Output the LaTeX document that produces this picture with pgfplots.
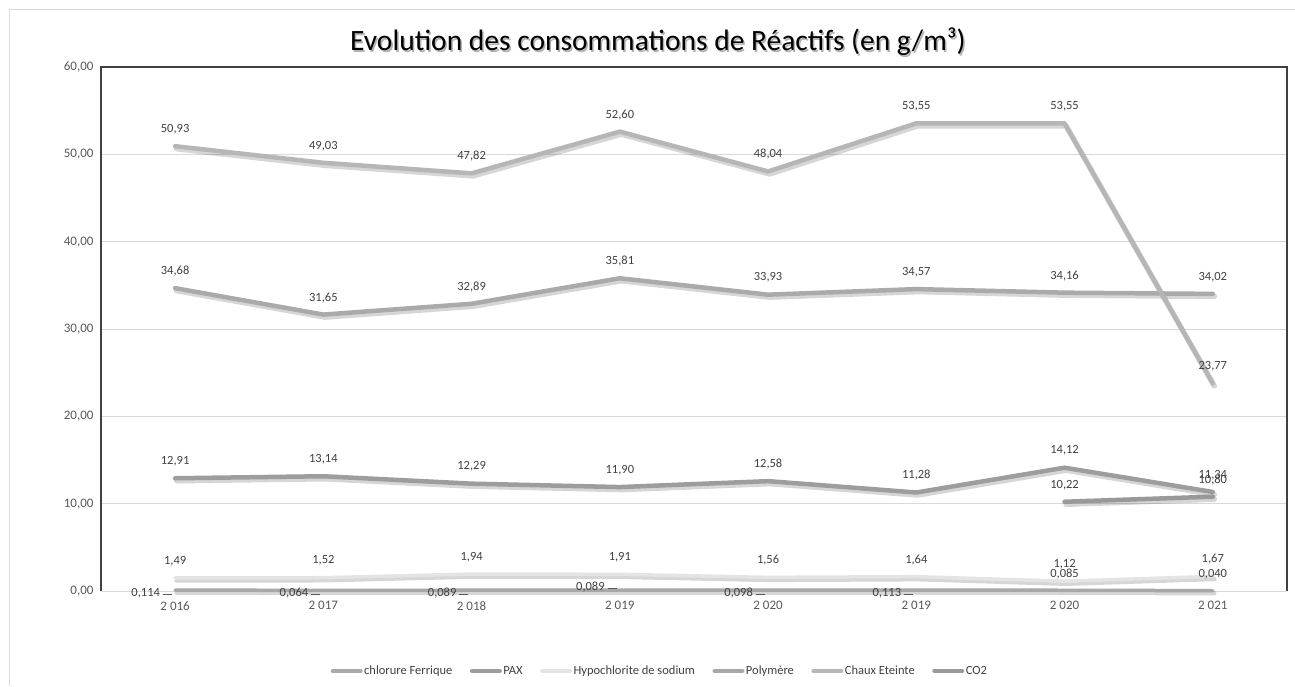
\documentclass[border=0pt]{standalone}
\usepackage{pgfplots}
\pgfplotsset{compat=1.18}
\usepackage{pgfplotstable}
\usepackage{fontspec}
\setmainfont{Carlito}

\definecolor{cChaux}{HTML}{B6B6B6}
\definecolor{cChlor}{HTML}{AAAAAA}
\definecolor{cPAX}{HTML}{9D9D9D}
\definecolor{cCO}{HTML}{999999}
\definecolor{cHypo}{HTML}{E4E4E4}
\definecolor{cPoly}{HTML}{A8A8A8}
\definecolor{cText}{HTML}{404040}
\definecolor{cTick}{HTML}{595959}
\definecolor{cGrid}{HTML}{D9D9D9}
\definecolor{cFrame}{HTML}{404040}

\pgfplotstableread{
x y lab
0 34.68 34,68
1 31.65 31,65
2 32.89 32,89
3 35.81 35,81
4 33.93 33,93
5 34.57 34,57
6 34.16 34,16
7 34.02 34,02
}\tChlor
\pgfplotstableread{
x y lab
0 12.91 12,91
1 13.14 13,14
2 12.29 12,29
3 11.90 11,90
4 12.58 12,58
5 11.28 11,28
6 14.12 14,12
7 11.34 11,34
}\tPAX
\pgfplotstableread{
x y lab
0 1.49 1,49
1 1.52 1,52
2 1.94 1,94
3 1.91 1,91
4 1.56 1,56
5 1.64 1,64
6 1.12 1,12
7 1.67 1,67
}\tHypo
\pgfplotstableread{
x y lab
0 0.114 0,114
1 0.064 0,064
2 0.089 0,089
3 0.089 0,089
4 0.098 0,098
5 0.113 0,113
6 0.085 0,085
7 0.040 0,040
}\tPoly
\pgfplotstableread{
x y lab
0 0.114 0,114
1 0.064 0,064
2 0.089 0,089
4 0.098 0,098
5 0.113 0,113
}\tPolyL
\pgfplotstableread{
x y lab
3 0.089 0,089
}\tPolyLA
\pgfplotstableread{
x y lab
6 0.085 0,085
7 0.040 0,040
}\tPolyA
\pgfplotstableread{
x y lab
0 50.93 50,93
1 49.03 49,03
2 47.82 47,82
3 52.60 52,60
4 48.04 48,04
5 53.55 53,55
6 53.55 53,55
7 23.77 23,77
}\tChaux
\pgfplotstableread{
x y lab
6 10.22 10,22
7 10.80 10,80
}\tCO

\begin{document}
\begin{tikzpicture}
\useasboundingbox (0,0) rectangle (1295pt,686pt);
\fill[white] (0,0) rectangle (1295pt,686pt);
% outer chart frame
\draw[cGrid, line width=1pt] (9pt,0pt) -- (9pt,676pt) -- (1295pt,676pt);
% title with shadow
\node[font=\fontsize{29.5}{34}\selectfont, text=black!30] at (659.5pt,642.5pt) {Evolution des consommations de Réactifs (en g/m³)};
\node[font=\fontsize{29.5}{34}\selectfont, text=black] at (658pt,644pt) {Evolution des consommations de Réactifs (en g/m³)};

\begin{axis}[
  at={(101pt,95pt)}, anchor=south west,
  scale only axis, width=1186pt, height=524pt,
  xmin=-0.5, xmax=7.5, ymin=0, ymax=60,
  axis line style={draw=none},
  xtick={0,...,7},
  xticklabels={2 016,2 017,2 018,2 019,2 020,2 019,2 020,2 021},
  ytick={0,10,...,60},
  yticklabels={{0,00},{10,00},{20,00},{30,00},{40,00},{50,00},{60,00}},
  major tick length=0pt,
  ymajorgrids, grid style={cGrid, line width=0.9pt},
  /pgf/number format/assume math mode=true,
  xticklabel style={font=\fontsize{13}{15}\selectfont, text=cTick, yshift=-7pt},
  yticklabel style={font=\fontsize{13}{15}\selectfont, text=cTick, xshift=-4pt},
  legend style={at={(axis description cs:0.471,-0.1527)}, anchor=center,
    draw=none, fill=none, legend columns=6,
    font=\fontsize{12.5}{14}\selectfont, text=cText,
    /tikz/every even column/.append style={column sep=16pt},
    nodes={inner sep=1.5pt}},
  legend image code/.code={\draw[#1, line width=4pt] (0pt,0pt) -- (28pt,0pt);},
  clip=false,
]
% shadows
\addplot[forget plot, draw=black, opacity=0.16, line width=5.5pt, line join=round, line cap=round, xshift=1.5pt, yshift=-2.5pt] table[x=x,y=y]{\tChlor};
\addplot[forget plot, draw=black, opacity=0.16, line width=5.5pt, line join=round, line cap=round, xshift=1.5pt, yshift=-2.5pt] table[x=x,y=y]{\tPAX};
\addplot[forget plot, draw=black, opacity=0.16, line width=4.5pt, line join=round, line cap=round, xshift=1.5pt, yshift=-2.5pt] table[x=x,y=y]{\tHypo};
\addplot[forget plot, draw=black, opacity=0.16, line width=4.5pt, line join=round, line cap=round, xshift=1.5pt, yshift=-2.5pt] table[x=x,y=y]{\tPoly};
\addplot[forget plot, draw=black, opacity=0.16, line width=5.5pt, line join=round, line cap=round, xshift=1.5pt, yshift=-2.5pt] table[x=x,y=y]{\tChaux};
\addplot[forget plot, draw=black, opacity=0.16, line width=5.5pt, line join=round, line cap=round, xshift=1.5pt, yshift=-2.5pt] table[x=x,y=y]{\tCO};
% lines
\addplot[cChlor, line width=4.5pt, line join=round, line cap=round] table[x=x,y=y]{\tChlor};
\addlegendentry{chlorure Ferrique}
\addplot[cPAX, line width=4.5pt, line join=round, line cap=round] table[x=x,y=y]{\tPAX};
\addlegendentry{PAX}
\addplot[cHypo, line width=3.5pt, line join=round, line cap=round] table[x=x,y=y]{\tHypo};
\addlegendentry{Hypochlorite de sodium}
\addplot[cPoly, line width=3.5pt, line join=round, line cap=round] table[x=x,y=y]{\tPoly};
\addlegendentry{Polymère}
\addplot[cChaux, line width=4.5pt, line join=round, line cap=round] table[x=x,y=y]{\tChaux};
\addlegendentry{Chaux Eteinte}
\addplot[cCO, line width=4.5pt, line join=round, line cap=round] table[x=x,y=y]{\tCO};
\addlegendentry{CO2}
% data labels
\pgfplotsset{lab/.style={forget plot, draw=none, nodes near coords, point meta=explicit symbolic,
  nodes near coords style={font=\fontsize{12.5}{14}\selectfont, text=cText, anchor=center, yshift=17pt}}}
\addplot[lab] table[x=x,y=y,meta=lab]{\tChlor};
\addplot[lab] table[x=x,y=y,meta=lab]{\tPAX};
\addplot[lab] table[x=x,y=y,meta=lab]{\tHypo};
\addplot[lab] table[x=x,y=y,meta=lab]{\tChaux};
\addplot[lab] table[x=x,y=y,meta=lab]{\tCO};
\addplot[lab, nodes near coords style={yshift=-1pt}] table[x=x,y=y,meta=lab]{\tPolyA};
\addplot[forget plot, draw=none, nodes near coords={\pgfplotspointmeta\hspace{3pt}\textcolor{cTick}{\rule[0.35ex]{9pt}{0.6pt}}}, point meta=explicit symbolic,
  nodes near coords style={font=\fontsize{12.5}{14}\selectfont, text=cText, anchor=east, inner sep=0pt, xshift=-3pt, yshift=-3pt}] table[x=x,y=y,meta=lab]{\tPolyL};
\addplot[forget plot, draw=none, nodes near coords={\pgfplotspointmeta\hspace{3pt}\textcolor{cTick}{\rule[0.35ex]{9pt}{0.6pt}}}, point meta=explicit symbolic,
  nodes near coords style={font=\fontsize{12.5}{14}\selectfont, text=cText, anchor=east, inner sep=0pt, xshift=-3pt, yshift=3pt}] table[x=x,y=y,meta=lab]{\tPolyLA};
% plot area frame
\draw[cFrame, line width=1.6pt] (rel axis cs:0,0) -- (rel axis cs:0,1) -- (rel axis cs:1,1) -- (rel axis cs:1,0);
\end{axis}
\end{tikzpicture}
\end{document}
